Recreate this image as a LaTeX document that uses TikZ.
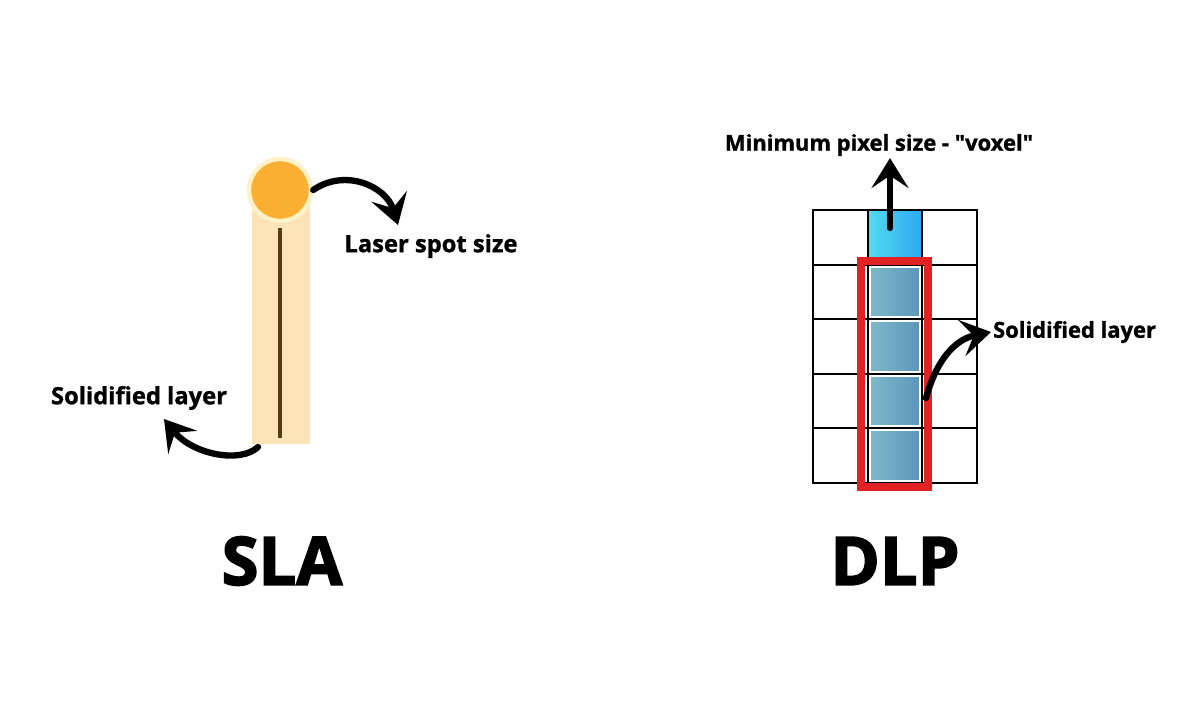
\documentclass[tikz,border=0pt]{standalone}
\usepackage{fontspec}
\setmainfont{Open Sans}
\newfontfamily\heavyfont{Open Sans}[BoldFeatures={FakeBold=1.2}]
\newfontfamily\titlefont{Open Sans}[BoldFeatures={FakeBold=2.5}]
\usetikzlibrary{arrows.meta}

\definecolor{spotorange}{HTML}{FBB034}
\definecolor{spotglow}{HTML}{FFF1C8}
\definecolor{beamcol}{HTML}{FDE3B8}
\definecolor{tracecol}{HTML}{5A3A10}
\definecolor{voxlight}{HTML}{52DCEF}
\definecolor{voxdark}{HTML}{2CA8F3}
\definecolor{layerlight}{HTML}{7EBBC8}
\definecolor{layerdark}{HTML}{5A94BC}
\definecolor{boxred}{HTML}{E22222}

\begin{document}
\begin{tikzpicture}[x=0.02cm,y=-0.02cm,
        cell/.style={draw=black,line width=1.1pt,fill=white,minimum size=1.092cm,inner sep=0pt},
        layercell/.style={cell,path picture={\shade[left color=layerlight,right color=layerdark,draw=white,line width=0.8pt]
            ([shift={(1.3pt,-1.3pt)}]path picture bounding box.north west) rectangle
            ([shift={(-1.3pt,1.3pt)}]path picture bounding box.south east);}},
        lbl/.style={font=\heavyfont\bfseries\fontsize{13.5}{14}\selectfont,inner sep=1pt},
        smalllbl/.style={font=\heavyfont\bfseries\fontsize{12.5}{13}\selectfont,inner sep=1pt},
        title/.style={font=\titlefont\bfseries\fontsize{38}{40}\selectfont},
        bigarrow/.style={line width=3.6pt,line cap=round,-{Stealth[length=17pt,width=21pt,inset=7pt]}}]

    \useasboundingbox (0,0) rectangle (1200,714);

    % SLA: beam, trace and laser spot
    \fill[beamcol] (252,186) rectangle (310,444);
    \node[circle,fill=spotorange,draw=spotglow,line width=2.5pt,minimum size=1.24cm,inner sep=0pt] (spot) at (280,190) {};
    \coordinate (traceend) at (280,438);
    \draw[tracecol,line width=2.3pt] ([yshift=-0.1cm]spot.south) -- (traceend);

    \node[lbl] (spotlbl) at (431,246) {Laser spot size};
    \node[lbl] (slalbl) at (139,398) {Solidified layer};
    \coordinate (spottip) at (398,225);
    \coordinate (slastart) at (258,447);
    \coordinate (slatip) at (164,419);

    % SLA arrows
    \draw[bigarrow] (spot.east) .. controls (345,168) and (386,186) .. (spottip);
    \draw[bigarrow] (slastart) .. controls (240,464) and (192,454) .. (slatip);

    % DLP: grid of pixels
    \foreach \r in {1,...,5}{
        \foreach \c in {1,3}{
            \node[cell] (c\r\c) at ({840.3+54.6*(\c-1)},{237.3+54.6*(\r-1)}) {};
        }
    }
    \node[cell,left color=voxlight,right color=voxdark] (vox) at (894.9,237.3) {};
    \foreach \r in {2,...,5}{
        \node[layercell] (l\r) at (894.9,{237.3+54.6*(\r-1)}) {};
    }
    \node[draw=boxred,line width=4.5pt,minimum width=1.34cm,minimum height=4.52cm,inner sep=0pt] (layerbox) at (894.5,374) {};

    \node[smalllbl] (voxlbl) at (879,145) {Minimum pixel size - {\char34}voxel{\char34}};
    \node[smalllbl,anchor=west] (dlplbl) at (991,332) {Solidified layer};
    \coordinate (voxbase) at (890,228);
    \coordinate (dlpstart) at (926,398);

    % DLP arrows
    \draw[bigarrow] (voxbase) -- (voxbase |- voxlbl.south);
    \draw[bigarrow] (dlpstart) .. controls (935,365) and (952,340) .. (dlplbl.west);

    % titles
    \node[title] (slatitle) at (282,561) {SLA};
    \node[title] (dlptitle) at (895,561) {DLP};
\end{tikzpicture}
\end{document}
